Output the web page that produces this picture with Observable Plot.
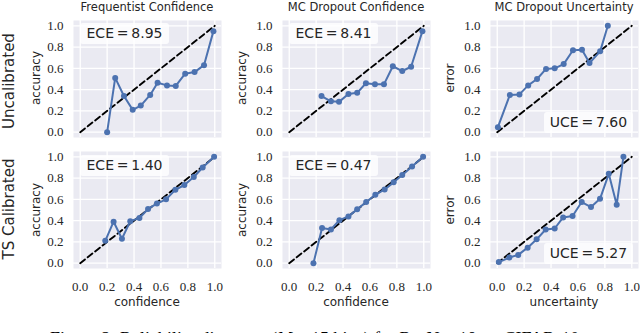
<!DOCTYPE html>
<html>
<head>
<meta charset="utf-8">
<script src="https://cdn.jsdelivr.net/npm/d3@7"></script>
<script src="https://cdn.jsdelivr.net/npm/@observablehq/plot@0.6"></script>
<style>
  html, body { margin: 0; padding: 0; background: #fff; }
  #root { position: relative; width: 640px; height: 333px; overflow: hidden; background: #fff; }
  .abs { position: absolute; white-space: nowrap; color: #262626; font-family: "DejaVu Sans", sans-serif; }
  .c { transform: translate(-50%, -50%); }
  .r { transform: translate(-50%, -50%) rotate(-90deg); }
  .box { position: absolute; background: rgba(255,255,255,0.82); border-radius: 3px;
         font-family: "DejaVu Sans", sans-serif; font-size: 14px; color: #262626;
         text-align: center; }
  svg { position: absolute; overflow: visible; }
  svg text { font-family: "Liberation Serif", "Times New Roman", serif; }
</style>
</head>
<body>
<div id="root"></div>
<script>
// ---------- data ----------
const titles = ["Frequentist Confidence", "MC Dropout Confidence", "MC Dropout Uncertainty"];
const rowLabels = ["Uncalibrated", "TS Calibrated"];
const yLabels = ["accuracy", "accuracy", "error"];
const xLabels = ["confidence", "confidence", "uncertainty"];
const ticks = [0, 0.2, 0.4, 0.6, 0.8, 1.0];
const diagonal = [0, 1];

// Row 1: uncalibrated
const freqUncalX = [0.20, 0.26, 0.325, 0.39, 0.45, 0.52, 0.575, 0.645, 0.71, 0.78, 0.85, 0.92, 0.99];
const freqUncalY = [0.00, 0.51, 0.34, 0.21, 0.25, 0.35, 0.465, 0.44, 0.435, 0.55, 0.565, 0.63, 0.95];
const mcConfUncalX = [0.24, 0.31, 0.37, 0.44, 0.505, 0.57, 0.637, 0.704, 0.77, 0.84, 0.906, 0.99];
const mcConfUncalY = [0.34, 0.29, 0.285, 0.36, 0.37, 0.46, 0.45, 0.45, 0.62, 0.575, 0.615, 0.95];
const mcUncUncalX = [0.005, 0.094, 0.165, 0.23, 0.296, 0.363, 0.427, 0.494, 0.563, 0.63, 0.686, 0.765, 0.822];
const mcUncUncalY = [0.047, 0.35, 0.355, 0.44, 0.50, 0.595, 0.60, 0.64, 0.77, 0.775, 0.65, 0.76, 1.0];

// Row 2: TS calibrated
const freqTsX = [0.186, 0.248, 0.31, 0.372, 0.44, 0.504, 0.57, 0.638, 0.707, 0.774, 0.844, 0.91, 0.995];
const freqTsY = [0.21, 0.39, 0.23, 0.395, 0.425, 0.51, 0.56, 0.60, 0.69, 0.735, 0.81, 0.90, 1.0];
const mcConfTsX = [0.18, 0.244, 0.31, 0.373, 0.44, 0.505, 0.572, 0.64, 0.709, 0.776, 0.84, 0.913, 0.995];
const mcConfTsY = [0.0, 0.33, 0.317, 0.404, 0.44, 0.506, 0.575, 0.643, 0.693, 0.76, 0.83, 0.91, 1.0];
const mcUncTsX = [0.012, 0.09, 0.156, 0.226, 0.293, 0.36, 0.427, 0.49, 0.56, 0.628, 0.697, 0.764, 0.829, 0.888, 0.938];
const mcUncTsY = [0.01, 0.053, 0.078, 0.146, 0.224, 0.317, 0.326, 0.43, 0.444, 0.575, 0.528, 0.605, 0.84, 0.55, 1.0];

const scoreNames = [["ECE", "ECE", "UCE"], ["ECE", "ECE", "UCE"]];
const scoreValues = [["8.95", "8.41", "7.60"], ["1.40", "0.47", "5.27"]];

const seriesX = [[freqUncalX, mcConfUncalX, mcUncUncalX], [freqTsX, mcConfTsX, mcUncTsX]];
const seriesY = [[freqUncalY, mcConfUncalY, mcUncUncalY], [freqTsY, mcConfTsY, mcUncTsY]];

const captionParts = ["Figure 2: Reliability diagrams (", "M", " = 15 bins) for ResNet-18 on CIFAR-10."];

// ---------- layout ----------
const root = document.getElementById("root");
const frameLefts = [73, 282, 490];
const frameTops = [19.5, 151];
const frameW = 148, frameH = 117;
const mL = 50, mR = 4, mT = 4;
const serif = "'Liberation Serif', 'Times New Roman', serif";

function addDiv(cls, text, left, top, css) {
  const d = document.createElement("div");
  d.className = cls;
  d.textContent = text;
  d.style.left = left + "px";
  d.style.top = top + "px";
  Object.assign(d.style, css || {});
  root.appendChild(d);
  return d;
}

for (let row = 0; row < 2; row++) {
  for (let col = 0; col < 3; col++) {
    const xs = seriesX[row][col], ys = seriesY[row][col];
    const data = xs.map((x, i) => ({x, y: ys[i]}));
    const diag = diagonal.map(v => ({x: v, y: v}));
    const bottom = row === 1;
    const mB = bottom ? 34 : 4;
    const plot = Plot.plot({
      width: mL + frameW + mR,
      height: mT + frameH + mB,
      marginLeft: mL, marginRight: mR, marginTop: mT, marginBottom: mB,
      style: {fontFamily: serif, fontSize: "13px", color: "#262626", background: "transparent", overflow: "visible"},
      x: {domain: [-0.05, 1.05], label: null},
      y: {domain: [-0.05, 1.05], label: null},
      marks: [
        Plot.frame({fill: "#EAEAF2", stroke: null}),
        Plot.gridX(ticks, {stroke: "white", strokeOpacity: 1, strokeWidth: 1.3}),
        Plot.gridY(ticks, {stroke: "white", strokeOpacity: 1, strokeWidth: 1.3}),
        Plot.axisY(ticks, {tickSize: 0, tickPadding: 10, tickFormat: d3.format(".1f"), label: null,
                           fontFamily: serif, fontSize: 13, fill: "#262626"}),
        Plot.axisX(bottom ? ticks : [], {tickSize: 0, tickPadding: 13, tickFormat: d3.format(".1f"), label: null,
                                    fontFamily: serif, fontSize: 13, fill: "#262626"}),
        Plot.line(diag, {x: "x", y: "y", stroke: "black", strokeWidth: 1.9, strokeDasharray: "6,3.5"}),
        Plot.line(data, {x: "x", y: "y", stroke: "#4C72B0", strokeWidth: 2}),
        Plot.dot(data, {x: "x", y: "y", fill: "#4C72B0", stroke: null, r: 3})
      ]
    });
    plot.style.left = (frameLefts[col] - mL) + "px";
    plot.style.top = (frameTops[row] - mT) + "px";
    root.appendChild(plot);

    const fl = frameLefts[col], ft = frameTops[row];
    const cx = fl + frameW / 2, cy = ft + frameH / 2;
    addDiv("abs r", yLabels[col], col === 0 ? 36 : fl - 40.5, cy, {fontSize: "12px"});
    if (row === 0) addDiv("abs c", titles[col], cx, 7, {fontSize: "11.5px"});
    if (bottom) addDiv("abs c", xLabels[col], cx, 302, {fontSize: "12px"});

    const txt = scoreNames[row][col] + "\u2009=\u2009" + scoreValues[row][col];
    const bw = 89, bh = 21;
    let bl, bt;
    if (col < 2) { bl = fl + 7; bt = ft + 3.5; }
    else { bl = fl + frameW - 5 - bw; bt = ft + frameH - 4 - bh; }
    addDiv("box", txt, bl, bt, {width: bw + "px", height: bh + "px", lineHeight: bh + "px"});
  }
}

addDiv("abs r", rowLabels[0], 8.5, 80.5, {fontSize: "15px"});
addDiv("abs r", rowLabels[1], 8.5, 209, {fontSize: "15px"});
const cap = addDiv("abs", "", 50, 329.5, {fontFamily: serif, fontSize: "18px", lineHeight: "18px", color: "#000"});
captionParts.forEach((p, i) => {
  const s = document.createElement(i === 1 ? "i" : "span");
  s.textContent = p;
  cap.appendChild(s);
});
</script>
</body>
</html>
